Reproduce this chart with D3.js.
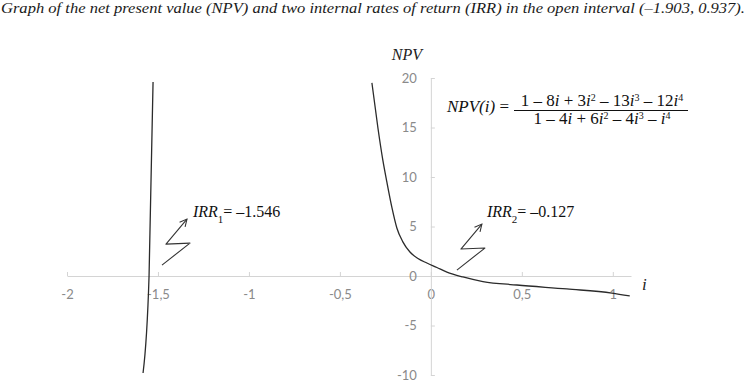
<!DOCTYPE html>
<html>
<head>
<meta charset="utf-8">
<script src="https://cdn.jsdelivr.net/npm/d3@7"></script>
<style>
  html, body { margin: 0; padding: 0; background: #fff; }
  svg { display: block; }
</style>
</head>
<body>
<div id="chart"></div>
<script>
// NPV graph with two IRR crossings

var xTicks = [-2, -1.5, -1, -0.5, 0, 0.5, 1];
var yTicks = [-10, -5, 0, 5, 10, 15, 20];

// left branch (almost vertical)
var leftI   = [-1.582, -1.549, -1.527];
var leftNpv = [-9.8, 0, 19.6];

// right branch
var rightI   = [-0.324, -0.291, -0.264, -0.242, -0.214, -0.187, -0.154, -0.115, -0.071, -0.022, 0.033, 0.088, 0.176, 0.286, 0.473, 0.747, 0.995, 1.093];
var rightNpv = [19.5, 14.95, 11.7, 9.5, 6.9, 4.85, 3.45, 2.42, 1.77, 1.31, 0.86, 0.4, -0.1, -0.56, -0.91, -1.31, -1.72, -2.02];

// IRR annotations: label anchor (data units) and zigzag arrow start (data units)
var irrSubs   = ["1", "2"];
var irrValues = ["= \u20131.546", "= \u20130.127"];
var irrLabelI = [-1.308, 0.308];
var irrLabelV = [5.96, 5.96];
var irrArrowI = [-1.478, 0.143];
var irrArrowV = [1.1, 0.6];

var titleText = "Graph of the net present value (NPV) and two internal rates of return (IRR) in the open interval (\u20131.903, 0.937).";

var totalW = 752, totalH = 382;
var margin = { top: 78, right: 121, bottom: 7, left: 67 };

var svg = d3.select("#chart").append("svg")
    .attr("width", totalW)
    .attr("height", totalH);

var x = d3.scaleLinear().domain([-2, 1.1]).range([margin.left, totalW - margin.right]);
var y = d3.scaleLinear().domain([-10, 20]).range([totalH - margin.bottom, margin.top]);

var tickFmt = function(d) { return String(d).replace(".", ","); };
var serif = "'Liberation Serif', 'DejaVu Serif', serif";

// --- Title ---
svg.append("text")
    .attr("x", 1)
    .attr("y", 13)
    .attr("textLength", 744)
    .attr("lengthAdjust", "spacingAndGlyphs")
    .style("font-family", serif)
    .style("font-style", "italic")
    .style("font-size", "15px")
    .style("fill", "#1a1a1a")
    .text(titleText);

// --- Axes ---
var xAxis = svg.append("g")
    .attr("transform", "translate(0," + y(0) + ")")
    .call(d3.axisBottom(x).tickValues(xTicks).tickSize(-4).tickSizeOuter(0).tickPadding(14).tickFormat(tickFmt));

var yAxis = svg.append("g")
    .attr("transform", "translate(" + x(0) + ",0)")
    .call(d3.axisLeft(y).tickValues(yTicks).tickSize(-4).tickSizeOuter(0).tickPadding(14).tickFormat(tickFmt));

[xAxis, yAxis].forEach(function(a) {
    a.select(".domain").attr("stroke", "#d4d4d4");
    a.selectAll(".tick line").attr("stroke", "#d4d4d4");
    a.selectAll(".tick text")
        .style("font-family", "Lato, 'Open Sans', sans-serif")
        .style("font-size", "13px")
        .attr("fill", "#8a8a8a");
});

// axis titles
svg.append("text")
    .attr("x", x(0) - 24)
    .attr("y", 60)
    .attr("text-anchor", "middle")
    .style("font-family", serif)
    .style("font-style", "italic")
    .style("font-size", "16px")
    .style("fill", "#222")
    .text("NPV");

svg.append("text")
    .attr("x", x(1.1) + 11)
    .attr("y", y(0) + 14)
    .style("font-family", serif)
    .style("font-style", "italic")
    .style("font-size", "17px")
    .style("fill", "#222")
    .text("i");

// --- Curves ---
var line = d3.line()
    .curve(d3.curveMonotoneX)
    .x(function(d) { return x(d[0]); })
    .y(function(d) { return y(d[1]); });

[[leftI, leftNpv], [rightI, rightNpv]].forEach(function(s) {
    svg.append("path")
        .datum(d3.zip(s[0], s[1]))
        .attr("fill", "none")
        .attr("stroke", "#2b2b2b")
        .attr("stroke-width", 1.3)
        .attr("d", line);
});

// --- Formula ---
function writeParts(textSel, parts) {
    parts.forEach(function(p) {
        var t = textSel.append("tspan").text(p[0]);
        if (p[1]) t.style("font-style", "italic");
        if (p[2]) t.attr("baseline-shift", "super").style("font-size", "10px");
    });
}

var fx = 602;
svg.append("text")
    .attr("x", 447)
    .attr("y", 112)
    .style("font-family", serif)
    .style("font-size", "17px")
    .style("fill", "#111")
    .call(writeParts, [["NPV(i)", true], [" = "]]);

var num = svg.append("text")
    .attr("x", fx).attr("y", 106)
    .attr("text-anchor", "middle")
    .style("font-family", serif)
    .style("font-size", "17px")
    .style("fill", "#111");
writeParts(num, [["1 \u2013 8"], ["i", true], [" + 3"], ["i", true], ["2", false, true],
    [" \u2013 13"], ["i", true], ["3", false, true], [" \u2013 12"], ["i", true], ["4", false, true]]);

var den = svg.append("text")
    .attr("x", fx).attr("y", 124)
    .attr("text-anchor", "middle")
    .style("font-family", serif)
    .style("font-size", "17px")
    .style("fill", "#111");
writeParts(den, [["1 \u2013 4"], ["i", true], [" + 6"], ["i", true], ["2", false, true],
    [" \u2013 4"], ["i", true], ["3", false, true], [" \u2013 "], ["i", true], ["4", false, true]]);

svg.append("line")
    .attr("x1", 514).attr("x2", 688)
    .attr("y1", 110.5).attr("y2", 110.5)
    .attr("stroke", "#111")
    .attr("stroke-width", 1);

// --- IRR labels with zigzag arrows ---
svg.append("defs").append("marker")
    .attr("id", "arr")
    .attr("viewBox", "0 0 10 10")
    .attr("refX", 9).attr("refY", 5)
    .attr("markerWidth", 9).attr("markerHeight", 9)
    .attr("markerUnits", "userSpaceOnUse")
    .attr("orient", "auto")
    .append("path")
    .attr("d", "M1,1 L9,5 L1,9")
    .attr("fill", "none")
    .attr("stroke", "#333")
    .attr("stroke-width", 1.2);

var zig = [[0, 0], [28, -22], [4, -21], [25, -46]];

irrSubs.forEach(function(sub, k) {
    var t = svg.append("text")
        .attr("x", x(irrLabelI[k]))
        .attr("y", y(irrLabelV[k]))
        .style("font-family", serif)
        .style("font-size", "16px")
        .style("fill", "#111");
    t.append("tspan").style("font-style", "italic").text("IRR");
    t.append("tspan").attr("baseline-shift", "sub").style("font-size", "11px").text(sub);
    t.append("tspan").text(irrValues[k]);

    var ax = x(irrArrowI[k]), ay = y(irrArrowV[k]);
    svg.append("path")
        .attr("d", d3.line()(zig.map(function(p) { return [ax + p[0], ay + p[1]]; })))
        .attr("fill", "none")
        .attr("stroke", "#333")
        .attr("stroke-width", 1.1)
        .attr("stroke-linejoin", "round")
        .attr("marker-end", "url(#arr)");
});
</script>
</body>
</html>
